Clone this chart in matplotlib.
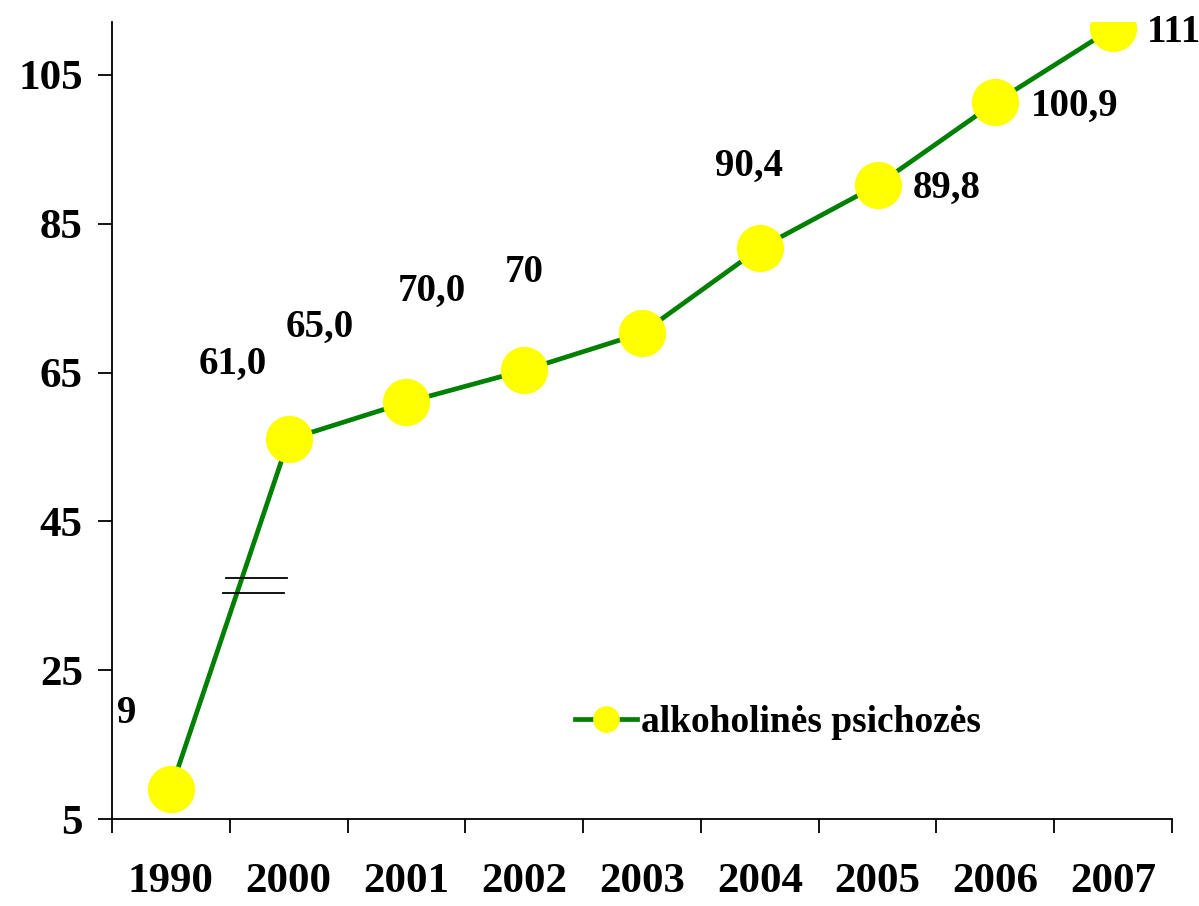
import matplotlib
matplotlib.use("Agg")
import matplotlib.pyplot as plt

years = ["1990", "2000", "2001", "2002", "2003", "2004", "2005", "2006", "2007"]
values = [9.0, 56.0, 61.0, 65.3, 70.3, 81.7, 90.2, 101.3, 111.3]
labels = ["9", "61,0", "65,0", "70,0", "70", "90,4", "89,8", "100,9", "111"]
yticks = [5, 25, 45, 65, 85, 105]
series_name = "alkoholinės psichozės"

plt.rcParams['font.family'] = ['Liberation Serif', 'DejaVu Serif']
plt.rcParams['font.weight'] = 'bold'

fig = plt.figure(figsize=(11.99, 9.06), dpi=100)
ax = fig.add_axes([0.0934, 0.0960, 0.8841, 0.8797])

x = list(range(len(years)))
ax.plot(x, values, color='#008000', linewidth=3.4, marker='o', markersize=33,
        markerfacecolor='#FFFF00', markeredgecolor='#FFFF00', label=series_name, zorder=3)

# label offsets in pixels (dx, dy up)
offsets = [(-44, 76), (-56, 75), (-87, 75), (-92, 79), (-118, 61),
           (-11, 82), (69, -3), (79, -4), (61, -5)]
for xi, v, lab, (dx, dy) in zip(x, values, labels, offsets):
    ax.annotate(lab, (xi, v), xytext=(dx * 0.72, dy * 0.72), textcoords='offset points',
                ha='center', va='center', fontsize=28, fontweight='bold')

# break marks
ax.plot([0.47, 0.99], [37.4, 37.4], color='black', linewidth=1.3, zorder=4)
ax.plot([0.44, 0.96], [35.4, 35.4], color='black', linewidth=1.3, zorder=4)

ax.set_xlim(-0.5, len(years) - 0.5)
ax.set_ylim(5, 112.1)
ax.set_yticks(yticks)
ax.set_yticklabels([str(t) for t in yticks], fontsize=31, fontweight='bold')
ax.set_xticks([i - 0.5 for i in range(len(years) + 1)])
ax.set_xticklabels([])
ax.set_xticks(x, minor=True)
ax.set_xticklabels(years, minor=True, fontsize=31, fontweight='bold')
ax.tick_params(axis='x', which='minor', length=0, pad=32)
ax.tick_params(axis='x', which='major', length=10, width=1.3, direction='out')
ax.tick_params(axis='y', length=10, width=1.3, direction='out', pad=11)

for s in ['top', 'right']:
    ax.spines[s].set_visible(False)
for s in ['left', 'bottom']:
    ax.spines[s].set_linewidth(1.3)

leg = ax.legend(loc='upper left', bbox_to_anchor=(0.405, 0.185), frameon=False,
                prop={'size': 27, 'weight': 'bold'}, markerscale=0.55,
                handlelength=1.65, handletextpad=0.12)

fig.savefig('out.png', dpi=100)
